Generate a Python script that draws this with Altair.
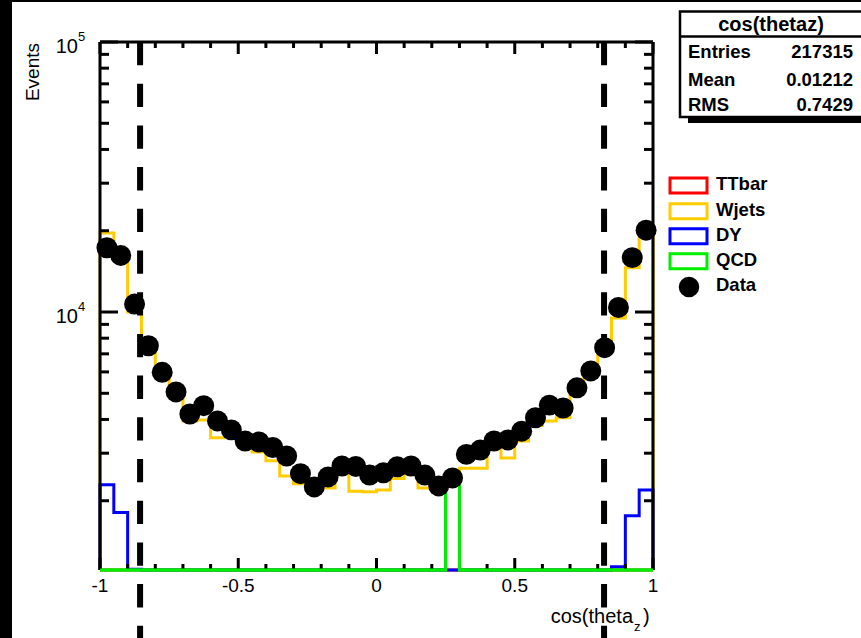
import altair as alt
import pandas as pd

# ---------------- data ----------------
bin_edges = [round(-1 + 0.05 * i, 2) for i in range(41)]
bin_centers = [round(-0.975 + 0.05 * i, 3) for i in range(40)]

data_counts = [17300, 16200, 10700, 7500, 5980, 5060, 4190, 4500, 3950, 3660,
               3330, 3300, 3150, 2930, 2520, 2250, 2450, 2690, 2680, 2490,
               2540, 2670, 2690, 2490, 2270, 2430, 2970, 3080, 3330, 3360,
               3620, 4060, 4520, 4410, 5240, 6050, 7380, 10400, 15900, 20100]

ttbar = [0] * 40

wjets = [19600, 16500, 10000, 7170, 5900, 4900, 3950, 3980, 3420, 3450,
         3250, 3030, 2810, 2470, 2310, 2230, 2230, 2520, 2170, 2160,
         2190, 2420, 2550, 2230, 2250, 2400, 2640, 2640, 3150, 2880,
         3330, 3800, 3950, 4060, 5000, 5900, 7300, 9500, 14600, 19900]

dy = [2290, 1810, 1115, 0, 0, 0, 0, 0, 0, 0,
      0, 0, 0, 0, 0, 0, 0, 0, 0, 0,
      0, 0, 0, 0, 0, 0, 0, 0, 0, 0,
      0, 0, 0, 0, 0, 0, 0, 1140, 1760, 2190]

qcd = [0, 0, 0, 0, 0, 0, 0, 0, 0, 0,
       0, 0, 0, 0, 0, 0, 0, 0, 0, 0,
       0, 0, 0, 0, 0, 2400, 0, 0, 0, 0,
       0, 0, 0, 0, 0, 0, 0, 0, 0, 0]

cut_lines = [-0.855, 0.823]

x_major = [-1, -0.5, 0, 0.5, 1]
x_labels = ["-1", "-0.5", "0", "0.5", "1"]
x_minor = [-0.9, -0.8, -0.7, -0.6, -0.4, -0.3, -0.2, -0.1,
           0.1, 0.2, 0.3, 0.4, 0.6, 0.7, 0.8, 0.9]
y_major = [10000, 100000]
y_exp = ["4", "5"]
y_minor = [2000, 3000, 4000, 5000, 6000, 7000, 8000, 9000,
           20000, 30000, 40000, 50000, 60000, 70000, 80000, 90000]

legend_names = ["TTbar", "Wjets", "DY", "QCD"]
legend_colors = ["#ff0000", "#ffcc00", "#0000ff", "#00ee00"]

stats_title = "cos(thetaz)"
stats_keys = ["Entries", "Mean", "RMS"]
stats_vals = ["217315", "0.01212", "0.7429"]

# ---------------- layout ----------------
W, H = 553, 528
L, T = 100, 42
YMIN = 1108
FONT = "Liberation Sans"

xs = alt.Scale(domain=[-1, 1], nice=False, zero=False)
ys = alt.Scale(type="log", domain=[YMIN, 100000], nice=False)
one = pd.DataFrame({"a": [0]})


def ax(px):  # absolute pixel -> plot-relative
    return px - L


def ay(py):
    return py - T


def X(f):
    return alt.X(f, type="quantitative", scale=xs, axis=None)


def Y(f):
    return alt.Y(f, type="quantitative", scale=ys, axis=None)


layers = []

# black page edges
layers.append(alt.Chart(one).mark_rect(color="black").encode(
    x=alt.value(ax(0)), x2=alt.value(ax(12)), y=alt.value(ay(0)), y2=alt.value(ay(638))))
layers.append(alt.Chart(one).mark_rect(color="black").encode(
    x=alt.value(ax(0)), x2=alt.value(ax(861)), y=alt.value(ay(0)), y2=alt.value(ay(2))))


# histograms
def hist_layer(vals, color):
    rows = [{"x": -1.0, "y": YMIN, "o": 0}]
    for i, v in enumerate(vals):
        rows.append({"x": bin_edges[i], "y": max(v, YMIN), "o": i + 1})
    rows.append({"x": 1.0, "y": max(vals[-1], YMIN), "o": 41})
    rows.append({"x": 1.0, "y": YMIN, "o": 42})
    return alt.Chart(pd.DataFrame(rows)).mark_line(
        interpolate="step-after", color=color, strokeWidth=3).encode(
        x=X("x"), y=Y("y"), order=alt.Order("o:Q"))


for vals, col in zip([ttbar, wjets, dy, qcd], legend_colors):
    layers.append(hist_layer(vals, col))

# frame
layers.append(alt.Chart(one).mark_rule(color="black", strokeWidth=3).encode(
    x=alt.value(0), y=alt.value(0), y2=alt.value(H)))
layers.append(alt.Chart(one).mark_rule(color="black", strokeWidth=3).encode(
    x=alt.value(W), y=alt.value(0), y2=alt.value(H)))
layers.append(alt.Chart(one).mark_rule(color="black", strokeWidth=3).encode(
    x=alt.value(0), x2=alt.value(W), y=alt.value(0)))

# ticks
ymaj = pd.DataFrame({"v": y_major, "e": y_exp})
ymin_df = pd.DataFrame({"v": y_minor})
xmaj = pd.DataFrame({"v": x_major, "t": x_labels})
xmin_df = pd.DataFrame({"v": x_minor})
for df, ln in [(ymaj, 18), (ymin_df, 9)]:
    layers.append(alt.Chart(df).mark_rule(color="black", strokeWidth=3).encode(
        y=Y("v"), x=alt.value(0), x2=alt.value(ln)))
    layers.append(alt.Chart(df).mark_rule(color="black", strokeWidth=3).encode(
        y=Y("v"), x=alt.value(W - ln), x2=alt.value(W)))
for df, ln in [(xmaj, 12), (xmin_df, 6)]:
    layers.append(alt.Chart(df).mark_rule(color="black", strokeWidth=3).encode(
        x=X("v"), y=alt.value(0), y2=alt.value(ln)))
    layers.append(alt.Chart(df).mark_rule(color="black", strokeWidth=3).encode(
        x=X("v"), y=alt.value(H - ln), y2=alt.value(H)))

# re-draw bottom green (QCD zero line) over the ticks as in the reference
layers.append(hist_layer(qcd, legend_colors[3]))

# data points
ddf = pd.DataFrame({"x": bin_centers, "y": data_counts})
layers.append(alt.Chart(ddf).mark_circle(size=440, color="black", opacity=1).encode(
    x=X("x"), y=Y("y")))

# cut lines
layers.append(alt.Chart(pd.DataFrame({"v": cut_lines})).mark_rule(
    color="black", strokeWidth=6, strokeDash=[23.3, 18.4]).encode(
    x=X("v"), y=alt.value(0), y2=alt.value(ay(640))))

# axis labels
layers.append(alt.Chart(xmaj).mark_text(font=FONT, fontSize=19, align="center",
                                         baseline="middle", color="black").encode(
    x=X("v"), y=alt.value(H + 16), text="t:N"))
layers.append(alt.Chart(ymaj).mark_text(font=FONT, fontSize=20, align="right",
                                         baseline="middle", color="black", dy=5).encode(
    y=Y("v"), x=alt.value(ax(78)), text=alt.value("10")))
layers.append(alt.Chart(ymaj).mark_text(font=FONT, fontSize=13, align="left",
                                         baseline="middle", color="black", dy=-5).encode(
    y=Y("v"), x=alt.value(ax(78)), text="e:N"))

# axis titles
layers.append(alt.Chart(one).mark_text(font=FONT, fontSize=19, align="right",
                                        baseline="middle", angle=270, color="black").encode(
    x=alt.value(ax(33)), y=alt.value(ay(43)), text=alt.value("Events")))
layers.append(alt.Chart(one).mark_text(font=FONT, fontSize=20, align="right",
                                        baseline="alphabetic", color="black").encode(
    x=alt.value(ax(633)), y=alt.value(ay(623)), text=alt.value("cos(theta")))
layers.append(alt.Chart(one).mark_text(font=FONT, fontSize=13, align="left",
                                        baseline="alphabetic", color="black").encode(
    x=alt.value(ax(634)), y=alt.value(ay(631)), text=alt.value("z")))
layers.append(alt.Chart(one).mark_text(font=FONT, fontSize=20, align="left",
                                        baseline="alphabetic", color="black").encode(
    x=alt.value(ax(643)), y=alt.value(ay(623)), text=alt.value(")")))

# stats box
layers.append(alt.Chart(one).mark_rect(color="black").encode(
    x=alt.value(ax(688)), x2=alt.value(ax(900)), y=alt.value(ay(20)), y2=alt.value(ay(123))))
layers.append(alt.Chart(one).mark_rect(fill="white", stroke="black", strokeWidth=2.5).encode(
    x=alt.value(ax(680)), x2=alt.value(ax(890)), y=alt.value(ay(11.5)), y2=alt.value(ay(117))))
layers.append(alt.Chart(one).mark_rule(color="black", strokeWidth=2.5).encode(
    x=alt.value(ax(680)), x2=alt.value(ax(890)), y=alt.value(ay(36.5))))
layers.append(alt.Chart(one).mark_text(font=FONT, fontSize=20, fontWeight="bold",
                                        align="center", baseline="middle", color="black").encode(
    x=alt.value(ax(771)), y=alt.value(ay(25)), text=alt.value(stats_title)))
row_y = [52, 80, 105]
for k, v, yy in zip(stats_keys, stats_vals, row_y):
    layers.append(alt.Chart(one).mark_text(font=FONT, fontSize=18.5, fontWeight="bold",
                                            align="left", baseline="middle", color="black").encode(
        x=alt.value(ax(688)), y=alt.value(ay(yy)), text=alt.value(k)))
    layers.append(alt.Chart(one).mark_text(font=FONT, fontSize=18.5, fontWeight="bold",
                                            align="right", baseline="middle", color="black").encode(
        x=alt.value(ax(853)), y=alt.value(ay(yy)), text=alt.value(v)))

# legend
box_y = [185.5, 211.3, 236.3, 261.3]
for name, col, yy in zip(legend_names, legend_colors, box_y):
    layers.append(alt.Chart(one).mark_rect(fill="white", stroke=col, strokeWidth=3).encode(
        x=alt.value(ax(670)), x2=alt.value(ax(707)), y=alt.value(ay(yy - 7.5)),
        y2=alt.value(ay(yy + 7.5))))
    layers.append(alt.Chart(one).mark_text(font=FONT, fontSize=18.5, fontWeight="bold",
                                            align="left", baseline="middle", color="black").encode(
        x=alt.value(ax(716)), y=alt.value(ay(yy - 1.5)), text=alt.value(name)))
layers.append(alt.Chart(one).mark_circle(size=420, color="black", opacity=1).encode(
    x=alt.value(ax(689)), y=alt.value(ay(287))))
layers.append(alt.Chart(one).mark_text(font=FONT, fontSize=18.5, fontWeight="bold",
                                        align="left", baseline="middle", color="black").encode(
    x=alt.value(ax(716)), y=alt.value(ay(285)), text=alt.value("Data")))

chart = alt.layer(*layers).properties(
    width=W, height=H,
    padding={"left": L, "top": T, "right": 861 - L - W, "bottom": 638 - T - H},
    autosize=alt.AutoSizeParams(type="none"),
    background="white",
).configure_view(stroke=None)

chart.save("out.html", embed_options={"renderer": "svg", "actions": False})
